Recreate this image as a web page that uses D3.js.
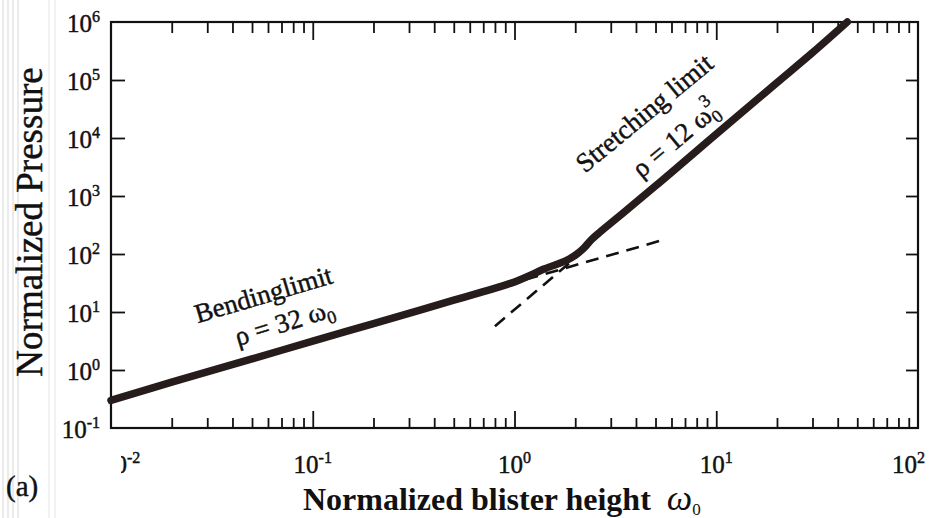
<!DOCTYPE html>
<html>
<head>
<meta charset="utf-8">
<script src="https://cdn.jsdelivr.net/npm/d3@7"></script>
<style>
  body { margin: 0; background: #fff; }
  svg { display: block; }
  text { font-family: 'Liberation Serif', 'Times New Roman', Times, 'DejaVu Serif', serif; fill: #111; }
  text.heavy { stroke: #111; stroke-width: 0.45px; }
</style>
</head>
<body>
<svg width="929" height="518"></svg>
<script>
// curve (omega0, normalized pressure)
var omega = [0.01, 0.02, 0.05, 0.1, 0.2, 0.5, 0.7, 1.0, 1.4, 2.0, 2.2, 2.4, 2.6, 3.0, 5.0, 10, 20, 30, 44.6];
var pressure = [0.30, 0.62, 1.55, 3.15, 6.3, 16, 22.5, 33, 55, 95, 125, 175, 225, 340, 1490, 11700, 90000, 296000, 1000000];
// dashed asymptotes
var bendOmega = [0.9, 5.3];
var bendP = [28.8, 170];
var stretchOmega = [0.8, 2.15];
var stretchP = [5.7, 105];

var xMajors = [0.1, 1, 10];
var xLabels = [0.01, 0.1, 1, 10, 100];
var xLabelExp = ["-2", "-1", "0", "1", "2"];
var yDecades = [1, 10, 100, 1000, 10000, 100000];
var yLabels = [0.1, 1, 10, 100, 1000, 10000, 100000, 1000000];
var yLabelExp = ["-1", "0", "1", "2", "3", "4", "5", "6"];

var svg = d3.select("svg");
var pLeft = 111, pRight = 918, pTop = 22, pBottom = 428;

var x = d3.scaleLog().domain([0.01, 100]).range([pLeft, pRight]);
var y = d3.scaleLog().domain([0.1, 1e6]).range([pBottom, pTop]);

// faint scan streaks on the left edge
[3, 8, 13, 18, 49, 55].forEach(function(sx, i) {
  svg.append("line")
    .attr("x1", sx).attr("x2", sx).attr("y1", 0).attr("y2", 518)
    .style("stroke", i < 4 ? "#e4e4e4" : "#eeeeee")
    .style("stroke-width", 1.5);
});

var minors = [];
[0.01, 0.1, 1, 10].forEach(function(d) {
  for (var k = 2; k <= 9; k++) minors.push(d * k);
});

function tickAxis(axis, g) {
  g.call(axis);
  g.select(".domain").remove();
  g.selectAll("line").style("stroke", "#111").style("stroke-width", 1.8);
}

// bottom ticks (pointing up)
tickAxis(d3.axisBottom(x).tickValues(minors).tickSize(-10).tickFormat(""),
  svg.append("g").attr("transform", "translate(0," + pBottom + ")"));
tickAxis(d3.axisBottom(x).tickValues(xMajors).tickSize(-17).tickFormat(""),
  svg.append("g").attr("transform", "translate(0," + pBottom + ")"));
// top ticks (pointing down)
tickAxis(d3.axisTop(x).tickValues(minors).tickSize(-11).tickFormat(""),
  svg.append("g").attr("transform", "translate(0," + pTop + ")"));
tickAxis(d3.axisTop(x).tickValues(xMajors).tickSize(-18).tickFormat(""),
  svg.append("g").attr("transform", "translate(0," + pTop + ")"));
// left and right ticks
tickAxis(d3.axisLeft(y).tickValues(yDecades).tickSize(-14).tickFormat(""),
  svg.append("g").attr("transform", "translate(" + pLeft + ",0)"));
tickAxis(d3.axisRight(y).tickValues(yDecades).tickSize(-12).tickFormat(""),
  svg.append("g").attr("transform", "translate(" + pRight + ",0)"));

// frame
svg.append("rect")
  .attr("x", pLeft).attr("y", pTop)
  .attr("width", pRight - pLeft).attr("height", pBottom - pTop)
  .style("fill", "none").style("stroke", "#111").style("stroke-width", 2.2);

// y tick labels
yLabels.forEach(function(v, i) {
  var t = svg.append("text").attr("class", "heavy")
    .attr("x", 100).attr("y", y(v) + 10)
    .attr("text-anchor", "end")
    .style("font-size", "25px");
  t.append("tspan").text("10");
  t.append("tspan").attr("dy", -10).style("font-size", "16px").text(yLabelExp[i]);
});

// x tick labels (the first one is cut off in the scan)
var defs = svg.append("defs");
defs.append("clipPath").attr("id", "lblclip")
  .append("rect").attr("x", 121).attr("y", 430).attr("width", 808).attr("height", 60);
xLabels.forEach(function(v, i) {
  var anchor = "middle", px = x(v), clip = null;
  if (i === 0) { anchor = "start"; px = x(v) - 9; clip = "url(#lblclip)"; }
  if (i === xLabels.length - 1) { anchor = "end"; px = x(v) + 7; }
  var t = svg.append("text").attr("class", "heavy")
    .attr("x", px).attr("y", 473)
    .attr("text-anchor", anchor)
    .attr("clip-path", clip)
    .style("font-size", "25px");
  t.append("tspan").text("10");
  t.append("tspan").attr("dy", -10).style("font-size", "16px").text(xLabelExp[i]);
});

// axis titles
svg.append("text").attr("class", "heavy")
  .attr("transform", "translate(42,222) rotate(-90)")
  .attr("text-anchor", "middle")
  .style("font-size", "37px")
  .text("Normalized Pressure");

var xt = svg.append("text")
  .attr("x", 303).attr("y", 510)
  .style("font-size", "32px").style("font-weight", "bold");
xt.append("tspan").text("Normalized blister height");
xt.append("tspan").attr("dx", 16).style("font-style", "italic").style("font-weight", "normal")
  .style("font-size", "36px").text("ω");
xt.append("tspan").attr("dy", 5).style("font-weight", "normal").style("font-size", "17px").text("0");

svg.append("text").attr("class", "heavy")
  .attr("x", 6).attr("y", 496)
  .style("font-size", "29px")
  .text("(a)");

// curves
var line = d3.line()
  .x(function(d) { return x(d[0]); })
  .y(function(d) { return y(d[1]); })
  .curve(d3.curveMonotoneX);

svg.append("path")
  .datum(d3.zip(bendOmega, bendP))
  .attr("d", line)
  .style("fill", "none").style("stroke", "#111")
  .style("stroke-width", 2.6).style("stroke-dasharray", "13,8");

svg.append("path")
  .datum(d3.zip(stretchOmega, stretchP))
  .attr("d", line)
  .style("fill", "none").style("stroke", "#111")
  .style("stroke-width", 2.6).style("stroke-dasharray", "13,8");

svg.append("path")
  .datum(d3.zip(omega, pressure))
  .attr("d", line)
  .style("fill", "none").style("stroke", "#261c1c")
  .style("stroke-width", 7.5).style("stroke-linecap", "round");

// annotations
function label(cx, cy, angle, size) {
  return svg.append("text").attr("class", "heavy")
    .attr("transform", "translate(" + cx + "," + cy + ") rotate(" + angle + ")")
    .attr("text-anchor", "middle")
    .style("font-size", size + "px");
}
label(266, 303, -16.5, 27).text("Bendinglimit");
var b = label(287, 331, -17, 27);
b.append("tspan").text("ρ = 32 ω");
b.append("tspan").attr("dy", 6).style("font-size", "18px").text("0");

label(650, 120, -39.5, 27).text("Stretching limit");
var s = label(681, 146, -39.5, 27);
s.append("tspan").text("ρ = 12 ω");
s.append("tspan").attr("dy", 6).style("font-size", "18px").text("0");
s.append("tspan").attr("dx", -9).attr("dy", -20).style("font-size", "18px").text("3");
</script>
</body>
</html>
